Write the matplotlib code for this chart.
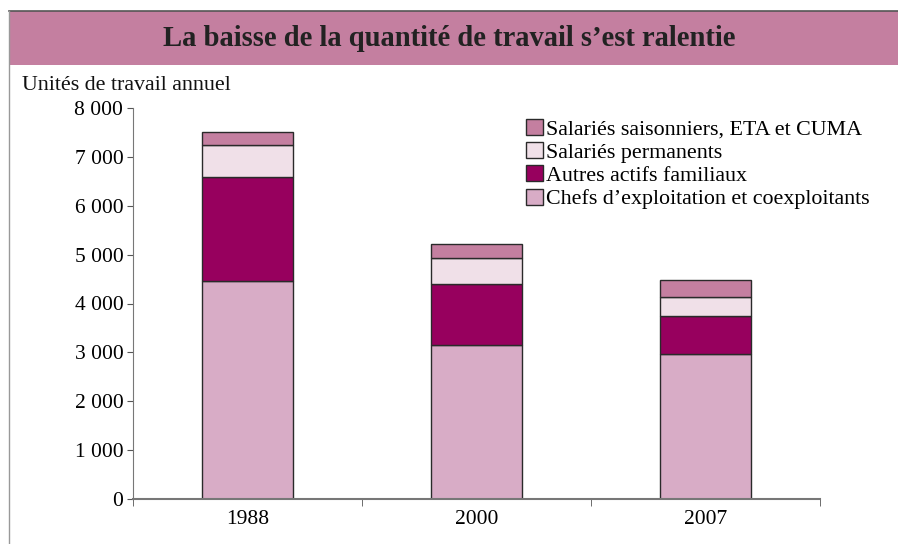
import matplotlib
matplotlib.use("Agg")
import matplotlib.pyplot as plt
from matplotlib.patches import Rectangle
from matplotlib.lines import Line2D
import matplotlib.ticker as ticker
import numpy as np

plt.rcParams["font.family"] = ["Liberation Serif", "DejaVu Serif"]

years = ["1988", "2000", "2007"]
chefs = [4470, 3150, 2970]
autres = [2110, 1240, 770]
permanents = [660, 540, 400]
saisonniers = [260, 280, 350]

series = [
    ("Chefs d\u2019exploitation et coexploitants", chefs, "#D8ACC6"),
    ("Autres actifs familiaux", autres, "#97005E"),
    ("Salariés permanents", permanents, "#F0E0E8"),
    ("Salariés saisonniers, ETA et CUMA", saisonniers, "#C47FA0"),
]

W, H = 898, 544
fig = plt.figure(figsize=(W / 100, H / 100), dpi=100)

# frame + title band
fig.patches.append(Rectangle((9 / W, 1 - 65 / H), 1 - 9 / W, 54 / H,
                             transform=fig.transFigure, fc="#C47FA0", ec="none", zorder=0))
fig.lines.append(Line2D([9 / W, 1], [1 - 10.5 / H] * 2, transform=fig.transFigure,
                        color="#555555", lw=1.2))
fig.lines.append(Line2D([9 / W, 9 / W], [0, 1 - 10.5 / H], transform=fig.transFigure,
                        color="#999999", lw=1.0))
fig.text(0.5, 1 - 39 / H, "La baisse de la quantité de travail s\u2019est ralentie",
         ha="center", va="center", fontsize=20.6, fontweight="bold", color="#222222")
fig.text(22 / W, 1 - 85 / H, "Unités de travail annuel", ha="left", va="center",
         fontsize=15.8, color="#111111")

ax = fig.add_axes([133 / W, 1 - 499 / H, 687 / W, 391 / H])
x = np.arange(len(years))
bottom = np.zeros(len(years))
handles = []
for label, vals, color in series:
    b = ax.bar(x, vals, width=0.4, bottom=bottom, color=color, edgecolor="#2a2a2a",
               linewidth=1.0, label=label, zorder=2)
    bottom += np.array(vals)
    handles.append(b)

ax.set_xlim(-0.5, len(years) - 0.5)
ax.set_ylim(0, 8000)
ax.set_yticks(np.arange(0, 8001, 1000))
ax.yaxis.set_major_formatter(ticker.FuncFormatter(
    lambda v, _: f"{int(v):,}".replace(",", " ")))
ax.set_xticks(x)
ax.set_xticklabels(years)
ax.set_xticks(np.arange(-0.5, len(years)), minor=True)
ax.tick_params(axis="x", which="major", length=0, pad=8, labelsize=15.5)
ax.tick_params(axis="x", which="minor", length=5, color="#555555", direction="out")
ax.tick_params(axis="y", length=4, color="#555555", labelsize=15.5, pad=3)
for s in ["top", "right"]:
    ax.spines[s].set_visible(False)
ax.spines["left"].set_color("#777777")
ax.spines["bottom"].set_color("#777777")
ax.spines["bottom"].set_linewidth(1.5)

leg = ax.legend(handles[::-1], [s[0] for s in series][::-1], loc="upper left",
                bbox_to_anchor=(0.56, 0.995), frameon=False, fontsize=15.8,
                handlelength=0.75, handleheight=0.75, handletextpad=0.15,
                labelspacing=0.12, borderaxespad=0)

fig.savefig("out.png", dpi=100)
